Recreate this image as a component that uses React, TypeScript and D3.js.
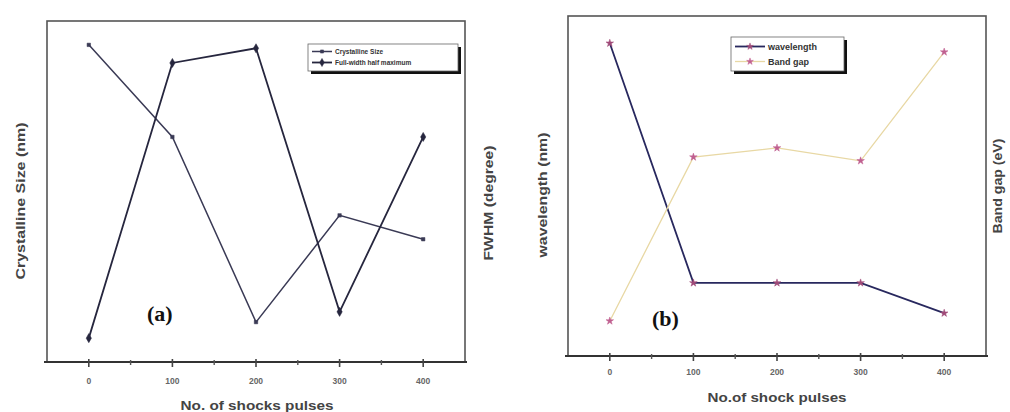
import React from "react";
import * as d3 from "d3";

const pulses = [0, 100, 200, 300, 400];
const xTickLabels = ["0", "100", "200", "300", "400"];
const minorTicks = [50, 150, 250, 350];
// panel (a), relative units (no y tick labels in original)
const crystallineSize = [93, 66, 11.7, 43, 36];
const fwhm = [7, 87.7, 92, 14.7, 66];
// panel (b), relative units
const wavelength = [92, 21.5, 21.5, 21.5, 12.6];
const bandGap = [10.3, 58.5, 61.2, 57.4, 89.4];

type Series = { values: number[]; color: string; width: number; marker: string; mSize: number; name: string; mColor?: string };

type Title = { text: string; x: number; y: number; len: number };

type PanelProps = {
  x0: number; x1: number; y0: number; y1: number;
  series: Series[];
  xTitle: Title; tickY: number;
  yLeft: Title; yRight: Title;
  tag: string; tagX: number; tagY: number;
  legend: { x: number; y: number; w: number; h: number; fs: number; sample: number; rowH: number };
};

function Marker({ x, y, type, size, color }: { x: number; y: number; type: string; size: number; color: string }) {
  const sym = type === "diamond" ? d3.symbolDiamond : type === "star" ? d3.symbolStar : d3.symbolSquare;
  const p = d3.symbol().type(sym).size(size)();
  return <path d={p || ""} transform={`translate(${x},${y})`} fill={color} stroke={color} strokeWidth={0.5} />;
}

function Panel(p: PanelProps) {
  const x = d3.scaleLinear().domain([-50, 450]).range([p.x0, p.x1]);
  const y = d3.scaleLinear().domain([0, 100]).range([p.y1, p.y0]);
  const line = d3.line<number>().x((_, i) => x(pulses[i])).y((d) => y(d));
  const L = p.legend;
  return (
    <g fontFamily="Liberation Sans, Arial, sans-serif">
      <rect x={p.x0} y={p.y0} width={p.x1 - p.x0} height={p.y1 - p.y0} fill="none" stroke="#555" strokeWidth={1.6} />
      <line x1={p.x0 - 3} x2={p.x1 + 2} y1={p.y1} y2={p.y1} stroke="#333" strokeWidth={2.2} />
      {pulses.map((t, i) => (
        <g key={t}>
          <line x1={x(t)} x2={x(t)} y1={p.y1 - 3} y2={p.y1 + 5} stroke="#444" strokeWidth={1.6} />
          <text x={x(t)} y={p.tickY} fontSize={8.5} fontWeight="bold" fill="#666" textAnchor="middle">{xTickLabels[i]}</text>
        </g>
      ))}
      {minorTicks.map((t) => (
        <line key={t} x1={x(t)} x2={x(t)} y1={p.y1 - 2} y2={p.y1 + 3} stroke="#555" strokeWidth={1.4} />
      ))}
      {p.series.map((s) => (
        <path key={s.name} d={line(s.values) || ""} fill="none" stroke={s.color} strokeWidth={s.width} />
      ))}
      {p.series.map((s) => (
        <g key={s.name + "m"}>
          {s.values.map((v, i) => (
            <Marker key={i} x={x(pulses[i])} y={y(v)} type={s.marker} size={s.mSize} color={s.mColor || s.color} />
          ))}
        </g>
      ))}
      {/* legend */}
      <rect x={L.x + 3} y={L.y + 3} width={L.w} height={L.h} fill="#111" />
      <rect x={L.x} y={L.y} width={L.w} height={L.h} fill="#fff" stroke="#666" strokeWidth={0.8} />
      {p.series.map((s, i) => {
        const ly = L.y + L.rowH * (i + 0.5) + 2;
        return (
          <g key={s.name + "l"}>
            <line x1={L.x + 4} x2={L.x + 4 + L.sample} y1={ly} y2={ly} stroke={s.color} strokeWidth={s.width} />
            <Marker x={L.x + 4 + L.sample / 2} y={ly} type={s.marker} size={s.mSize * 0.8} color={s.mColor || s.color} />
            <text x={L.x + 7 + L.sample} y={ly + L.fs * 0.35} fontSize={L.fs} fontWeight="bold" fill="#333">{s.name}</text>
          </g>
        );
      })}
      <text x={p.xTitle.x} y={p.xTitle.y} fontSize={12} fontWeight="bold" fill="#444" textAnchor="middle"
        textLength={p.xTitle.len} lengthAdjust="spacingAndGlyphs">{p.xTitle.text}</text>
      {[p.yLeft, p.yRight].map((t) => (
        <text key={t.text} transform={`translate(${t.x},${t.y}) rotate(-90)`} fontSize={12} fontWeight="bold" fill="#444"
          textAnchor="middle" dominantBaseline="middle" textLength={t.len} lengthAdjust="spacingAndGlyphs">{t.text}</text>
      ))}
      <text x={p.tagX} y={p.tagY} fontSize={22} fontWeight="bold" fontFamily="Liberation Serif, Times New Roman, serif" fill="#111">{p.tag}</text>
    </g>
  );
}

export default function App() {
  const seriesA: Series[] = [
    { name: "Crystalline Size", values: crystallineSize, color: "#3a3a55", width: 1.5, marker: "square", mSize: 12 },
    { name: "Full-width half maximum", values: fwhm, color: "#26263e", width: 1.8, marker: "diamond", mSize: 24 },
  ];
  const seriesB: Series[] = [
    { name: "wavelength", values: wavelength, color: "#28285e", width: 1.8, marker: "star", mSize: 18, mColor: "#a04a78" },
    { name: "Band gap", values: bandGap, color: "#e8d8a4", width: 1.3, marker: "star", mSize: 18, mColor: "#c06090" },
  ];
  return (
    <svg width={1010} height={412} style={{ position: "absolute", left: 0, top: 0, background: "#fff" }}>
      <Panel
        x0={47} x1={465} y0={21} y1={362}
        series={seriesA}
        xTitle={{ text: "No. of shocks pulses", x: 257, y: 410, len: 153 }} tickY={384}
        yLeft={{ text: "Crystalline Size (nm)", x: 22, y: 201, len: 157 }}
        yRight={{ text: "FWHM (degree)", x: 490, y: 203, len: 115 }}
        tag="(a)" tagX={147} tagY={321}
        legend={{ x: 308, y: 44, w: 150, h: 27, fs: 6.5, sample: 20, rowH: 11 }}
      />
      <Panel
        x0={568} x1={986} y0={16} y1={356}
        series={seriesB}
        xTitle={{ text: "No.of shock pulses", x: 777, y: 402, len: 139 }} tickY={375}
        yLeft={{ text: "wavelength (nm)", x: 544, y: 195, len: 125 }}
        yRight={{ text: "Band gap (eV)", x: 999, y: 186, len: 95 }}
        tag="(b)" tagX={652} tagY={326}
        legend={{ x: 731, y: 37, w: 113, h: 34, fs: 9, sample: 30, rowH: 15 }}
      />
    </svg>
  );
}
